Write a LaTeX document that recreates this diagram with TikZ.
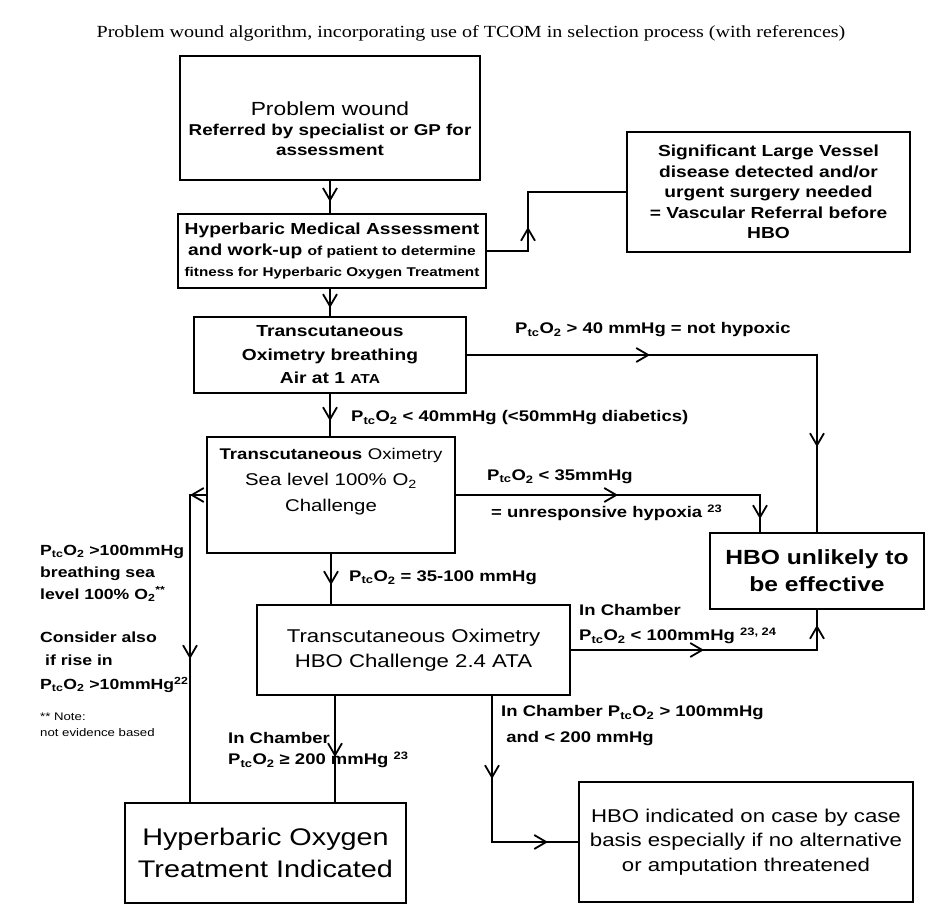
\documentclass[tikz,border=0pt]{standalone}
\usepackage{fontspec}
\setmainfont{Liberation Sans}[FakeStretch=1.2]
\newfontfamily\titlefont{Liberation Serif}[FakeStretch=1.18]
\usetikzlibrary{arrows.meta,decorations.markings}

\newcommand{\ptco}{P\textsubscript{tc}O\textsubscript{2}}
\newcommand{\fsz}[2]{\fontsize{#1}{#2}\selectfont}

\tikzset{
  box/.style={draw, line width=2pt, align=center, inner sep=2pt},
  lbl/.style={align=left, inner sep=0pt, anchor=west, font=\bfseries\fsz{15.4}{25}},
  vee/.tip={Straight Barb[length=12pt,width=14pt,line width=1.8pt]},
  arrat/.style={postaction={decorate,decoration={markings,mark=at position #1 with {\arrow{vee}}}}},
  conn/.style={line width=2pt}
}

\begin{document}
\begin{tikzpicture}[x=1pt,y=-1pt]
\useasboundingbox (0,0) rectangle (932,917);

\node[font=\titlefont\fsz{17}{20}, inner sep=0pt] (title) at (471,33)
  {Problem wound algorithm, incorporating use of TCOM in selection process (with references)};

% boxes
\node[box, minimum width=300pt, minimum height=124pt, font=\bfseries\fsz{15.7}{20}] (pw) at (330,118)
  {\rule{0pt}{36pt}{\mdseries\fsz{19}{20}Problem wound}\\ Referred by specialist or GP for\\ assessment};
\node[box, minimum width=308pt, minimum height=74pt, font=\bfseries\fsz{16}{21}] (hma) at (332,251)
  {Hyperbaric Medical Assessment\\ and work-up {\fsz{13}{18}of patient to determine}\\ {\fsz{12.7}{18}fitness for Hyperbaric Oxygen Treatment}};
\node[box, minimum width=283pt, minimum height=120pt, font=\bfseries\fsz{16}{20.5}] (slv) at (768.5,192)
  {Significant Large Vessel\\ disease detected and/or\\ urgent surgery needed\\ = Vascular Referral before\\ HBO};
\node[box, minimum width=272pt, minimum height=76pt, font=\bfseries\fsz{16}{23.5}] (tco1) at (330,355)
  {Transcutaneous\\ Oximetry breathing\\ Air at 1 {\fsz{13}{23.5}ATA}};
\node[box, minimum width=248pt, minimum height=116pt, font=\fsz{17}{26}] (tco2) at (331,495)
  {{\bfseries\fsz{15.5}{26}Transcutaneous} {\fsz{15.5}{26}Oximetry}\\ Sea level 100\% O\textsubscript{2}\\ Challenge\rule[-30pt]{0pt}{1pt}};
\node[box, minimum width=214pt, minimum height=76pt, font=\bfseries\fsz{20.5}{27}] (unl) at (817,571)
  {HBO unlikely to\\ be effective};
\node[box, minimum width=313pt, minimum height=90pt, font=\fsz{18.5}{25}] (chal) at (413.5,650)
  {Transcutaneous Oximetry\\ HBO Challenge 2.4 ATA};
\node[box, minimum width=281pt, minimum height=100pt, font=\fsz{24}{32}] (hbot) at (265.5,853)
  {Hyperbaric Oxygen\\ Treatment Indicated};
\node[box, minimum width=334pt, minimum height=120pt, font=\fsz{18.5}{24.5}] (case) at (746,842)
  {HBO indicated on case by case\\ basis especially if no alternative\\ or amputation threatened};

% labels
\node[lbl] (l40) at (515,330) {\ptco{} > 40 mmHg = not hypoxic};
\node[lbl] (lt40) at (351,418) {\ptco{} < 40mmHg (<50mmHg diabetics)};
\node[lbl] (l35) at (487,477) {\ptco{} < 35mmHg};
\node[lbl] (lunr) at (491,513) {= unresponsive hypoxia \textsuperscript{23}};
\node[lbl] (l35to100) at (349,578) {\ptco{} = 35-100 mmHg};
\node[lbl] (lch1) at (579,624.5) {In Chamber\\ \ptco{} < 100mmHg \textsuperscript{23, 24}};
\node[lbl, font=\bfseries\fsz{15.4}{21}] (lch2) at (228,750.5) {In Chamber\\ \ptco{} ≥ 200 mmHg \textsuperscript{23}};
\node[lbl, font=\bfseries\fsz{15.4}{26}] (lch3) at (501,726) {In Chamber \ptco{} > 100mmHg\\ \ and < 200 mmHg};
\node[lbl, font=\bfseries\fsz{14.7}{22}] (lsea) at (40,573) {\ptco{} >100mmHg\\ breathing sea\\ level 100\% O\textsubscript{2}\textsuperscript{**}};
\node[lbl, font=\bfseries\fsz{14.7}{23.5}] (lrise) at (40,662) {Consider also\\ \ if rise in\\ \ptco{} >10mmHg\textsuperscript{22}};
\node[lbl, font=\fsz{11}{16}] (lnote) at (40,725) {** Note:\\ not evidence based};

% connectors
\coordinate (vj) at (528,0);
\coordinate (u760) at (760,0);
\coordinate (fb) at (190,0);
\coordinate (c335) at ([xshift=-78.5pt]chal.south);
\coordinate (c492) at ([xshift=78.5pt]chal.south);

\draw[conn, arrat=0.65] (pw.south) -- (pw.south |- hma.north);
\draw[conn, arrat=0.7] (tco1.north |- hma.south) -- (tco1.north);
\draw[conn, arrat=65pt] (hma.east) -| (vj |- slv.west) -- (slv.west);
\draw[conn, arrat=183pt, arrat=442pt] (tco1.east) -| (unl.north);
\draw[conn, arrat=27pt] (tco1.south) -- (tco1.south |- tco2.north);
\draw[conn, arrat=162pt, arrat=328pt] (tco2.east) -| (u760 |- unl.north);
\draw[conn, arrat=31pt] (tco2.south) -- (tco2.south |- chal.north);
\draw[conn, arrat=133pt, arrat=271pt] (chal.east) -| (unl.south);
\draw[conn, arrat=61pt] (c335) -- (c335 |- hbot.north);
\draw[conn, arrat=83pt, arrat=202pt] (c492) |- (case.west);
\draw[conn, arrat=16pt, arrat=180pt] (tco2.west) -| (fb |- hbot.north);
\end{tikzpicture}
\end{document}
